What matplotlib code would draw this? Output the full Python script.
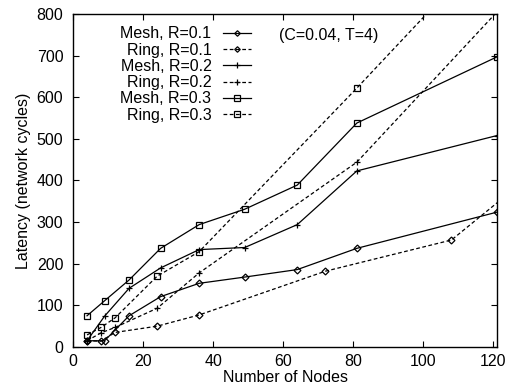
import matplotlib
matplotlib.use("Agg")
import matplotlib.pyplot as plt

plt.rcParams['font.family'] = ['Liberation Sans', 'DejaVu Sans']

# mesh sizes (square grids) and ring sizes
mesh_nodes = [4, 9, 16, 25, 36, 49, 64, 81, 121]
mesh_r01 = [15, 15, 75, 121, 153, 168, 186, 237, 324]
mesh_r02 = [15, 74, 141, 190, 234, 239, 294, 423, 508]
mesh_r03 = [75, 111, 161, 237, 294, 331, 389, 538, 697]

ring_nodes_r01 = [4, 8, 12, 24, 36, 72, 108, 144]
ring_r01 = [15, 14, 35, 50, 77, 182, 257, 504]
ring_nodes_r02 = [4, 8, 12, 24, 36, 81, 121]
ring_r02 = [15, 34, 47, 93, 178, 444, 805]
ring_nodes_r03 = [4, 8, 12, 24, 36, 81, 121]
ring_r03 = [29, 47, 70, 170, 229, 622, 980]

fig = plt.figure(figsize=(5.12, 3.92), dpi=100)
ax = fig.add_axes([0.1426, 0.1148, 0.8281, 0.8495])

dash = (0, (3, 2))
kw = dict(color="black", lw=0.9, markerfacecolor="none", markeredgecolor="black",
          markeredgewidth=0.9, clip_on=True)

ax.plot(mesh_nodes, mesh_r01, marker="D", ms=3.5, ls="-", label="Mesh, R=0.1", **kw)
ax.plot(ring_nodes_r01, ring_r01, marker="D", ms=3.5, ls=dash, label="Ring, R=0.1", **kw)
ax.plot(mesh_nodes, mesh_r02, marker="+", ms=5, ls="-", label="Mesh, R=0.2", **kw)
ax.plot(ring_nodes_r02, ring_r02, marker="+", ms=5, ls=dash, label="Ring, R=0.2", **kw)
ax.plot(mesh_nodes, mesh_r03, marker="s", ms=5, ls="-", label="Mesh, R=0.3", **kw)
ax.plot(ring_nodes_r03, ring_r03, marker="s", ms=5, ls=dash, label="Ring, R=0.3", **kw)

ax.set_xlim(0, 121)
ax.set_ylim(0, 800)
ax.set_xticks(range(0, 121, 20))
ax.set_yticks(range(0, 801, 100))
ax.tick_params(direction="in", top=True, right=True, length=4, width=0.8,
               labelsize=11.5, pad=7)
ax.tick_params(axis="x", pad=5)
for s in ax.spines.values():
    s.set_linewidth(1.0)

ax.set_xlabel("Number of Nodes", fontsize=11.5, labelpad=1)
ax.set_ylabel("Latency (network cycles)", fontsize=11.5, labelpad=4)

ax.text(58.9, 748, "(C=0.04, T=4)", fontsize=11.5, ha="left", va="center")

leg = ax.legend(loc="upper left", bbox_to_anchor=(0.112, 0.963), frameon=False,
                markerfirst=False, numpoints=1, fontsize=11.5, handlelength=1.8,
                handletextpad=0.7, labelspacing=0.08, borderaxespad=0, borderpad=0)
for h in leg.legend_handles:
    h.set_markersize(h.get_markersize() * 0.8)

fig.savefig("out.png", dpi=100)
